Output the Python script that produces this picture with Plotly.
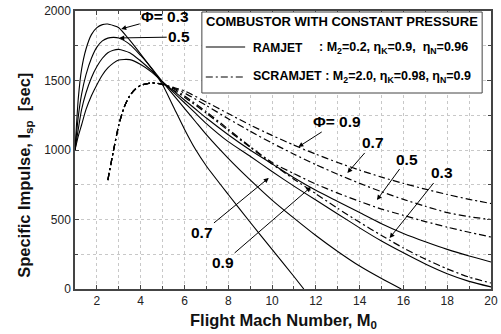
import plotly.graph_objects as go

# ---------------- data ----------------
ram_M = [1.0, 1.15, 1.3, 1.5, 1.75, 2.0, 2.25, 2.5, 2.75, 3.0, 3.5, 4.0, 4.5, 5.0, 5.5, 6.0, 6.5, 7.0,
         8.0, 9.0, 10.0, 11.0, 12.0, 13.0, 14.0, 15.0, 16.0, 17.0, 18.0, 19.0, 20.0]
ram_03 = [1000, 1370, 1580, 1725, 1830, 1880, 1902, 1906, 1895, 1880, 1790, 1690, 1585, 1470, 1310, 1150, 1005, 885,
          680, 480, 285, 90, None, None, None, None, None, None, None, None, None]
ram_05 = [1000, 1240, 1400, 1540, 1660, 1740, 1785, 1805, 1810, 1806, 1760, 1680, 1590, 1490, 1395, 1300, 1205, 1110,
          940, 785, 640, 510, 385, 270, 165, 75, None, None, None, None, None]
ram_07 = [1000, 1150, 1290, 1410, 1520, 1600, 1660, 1700, 1718, 1724, 1700, 1640, 1570, 1490, 1415, 1340, 1265, 1190,
          1060, 955, 845, 740, 640, 540, 440, 345, 260, 180, 110, 55, 15]
ram_09 = [1000, 1100, 1180, 1290, 1390, 1470, 1540, 1590, 1625, 1648, 1650, 1615, 1560, 1490, 1425, 1360, 1295, 1230,
          1110, 1000, 900, 800, 710, 630, 550, 470, 400, 340, 285, 237, 194]
ram_zero_M = [11.45, 15.9]   # Mach numbers where the Phi=0.3 / 0.5 ramjet curves reach zero

scr_M = [2.5, 2.75, 3.0, 3.25, 3.5, 3.75, 4.0, 4.5, 5.0, 5.5, 6.0, 7.0, 8.0, 9.0, 10.0, 11.0, 12.0, 13.0,
         14.0, 15.0, 16.0, 17.0, 18.0, 19.0, 20.0]
scr_rise = [784, 990, 1180, 1310, 1390, 1437, 1465, 1483, 1472]
scr_09 = scr_rise + [1450, 1425, 1345, 1262, 1180, 1105, 1035, 970, 910, 855, 805, 760, 718, 680, 645, 615]
scr_07 = scr_rise + [1445, 1410, 1320, 1225, 1135, 1050, 970, 895, 825, 760, 700, 645, 595, 550, 520, 500]
scr_05 = scr_rise + [1440, 1390, 1275, 1150, 1025, 910, 830, 755, 690, 630, 575, 530, 485, 445, 408, 374]
scr_03 = scr_rise + [1430, 1380, 1265, 1140, 1020, 900, 790, 685, 580, 480, 385, 295, 215, 145, 85, 43]

x_ticks = [2, 4, 6, 8, 10, 12, 14, 16, 18, 20]
y_ticks = [0, 500, 1000, 1500, 2000]

FONT = "Liberation Sans, Arial, sans-serif"
DASHDOT = "7px,3px,2px,3px"


def clean(xs, ys, zero_at=None):
    px, py = [], []
    for a, b in zip(xs, ys):
        if b is not None:
            px.append(a)
            py.append(b)
    if zero_at is not None:
        px.append(zero_at)
        py.append(0)
    return px, py


fig = go.Figure()
for ys, z in [(ram_03, ram_zero_M[0]), (ram_05, ram_zero_M[1]), (ram_07, None), (ram_09, None)]:
    xx, yy = clean(ram_M, ys, z)
    fig.add_trace(go.Scatter(x=xx, y=yy, mode="lines", line=dict(color="black", width=1.1, shape="spline", smoothing=0.6),
                             showlegend=False, hoverinfo="skip"))
for ys in [scr_09, scr_07, scr_05, scr_03]:
    fig.add_trace(go.Scatter(x=scr_M, y=ys, mode="lines",
                             line=dict(color="black", width=1.2, dash=DASHDOT, shape="spline", smoothing=0.6),
                             showlegend=False, hoverinfo="skip"))

axis_common = dict(
    showline=True, linecolor="#444", linewidth=1.5, mirror="ticks",
    ticks="inside", ticklen=4, tickcolor="#444", tickwidth=1,
    showgrid=True, gridcolor="#c8c8c8", gridwidth=1, griddash="dot",
    zeroline=False, tickfont=dict(family=FONT, size=12, color="#222"),
    ticklabeloverflow="allow",
)
fig.update_xaxes(range=[1, 20], tickvals=x_ticks,
                 minor=dict(dtick=1, tick0=0, ticks="inside", ticklen=3, tickcolor="#444",
                            showgrid=True, gridcolor="#c8c8c8", griddash="dot"),
                 **axis_common)
fig.update_yaxes(range=[0, 2000], tickvals=y_ticks,
                 minor=dict(dtick=250, tick0=0, ticks="inside", ticklen=3, tickcolor="#444",
                            showgrid=True, gridcolor="#c8c8c8", griddash="dot"),
                 **axis_common)

L, R, T, B = 75, 3, 11, 45
W, H = 501, 334
PW, PH = W - L - R, H - T - B


def px2paper(px, py):
    return (px - L) / PW, (T + PH - py) / PH


annots = []
# axis titles
ax_x, ax_y = px2paper(287, 321)
annots.append(dict(text="<b>Flight Mach Number, M<sub>0</sub></b>", x=ax_x, y=ax_y, xref="paper", yref="paper",
                   showarrow=False, font=dict(family=FONT, size=16.5, color="#111"), xanchor="center", yanchor="middle"))
ay_x, ay_y = px2paper(24, 175)
annots.append(dict(text="<b>Specific Impulse, I<sub>sp</sub>  [sec]</b>", x=ay_x, y=ay_y, xref="paper", yref="paper",
                   showarrow=False, textangle=-90, font=dict(family=FONT, size=16.5, color="#111"),
                   xanchor="center", yanchor="middle"))

# curve labels with arrows: (text, tip M, tip Isp, dx px, dy px)
labels = [
    ("Φ= 0.3", 3.11, 1871, 44, -12),
    ("0.5", 3.02, 1806, 60, -1),
    ("Φ= 0.9", 11.2, 1022, 39, -25),
    ("0.7", 13.44, 835, 26, -30),
    ("0.5", 14.79, 640, 30, -41),
    ("0.3", 15.37, 367, 52, -65),
    ("0.7", 9.85, 799, -67, 55),
    ("0.9", 11.78, 734, -88, 76),
]
for t, xm, yi, dx, dy in labels:
    annots.append(dict(text="<b>%s</b>" % t, x=xm, y=yi, xref="x", yref="y", ax=dx, ay=dy,
                       showarrow=True, arrowhead=2, arrowsize=1, arrowwidth=1, arrowcolor="black",
                       font=dict(family=FONT, size=15.5, color="black"), bgcolor="rgba(0,0,0,0)"))

# legend box
bx0, by0 = px2paper(204, 93)
bx1, by1 = px2paper(489, 12)
shapes = [dict(type="rect", xref="paper", yref="paper", x0=bx0, y0=by0, x1=bx1, y1=by1,
               line=dict(color="#444", width=1), fillcolor="white", layer="above")]
sx0, sy0 = px2paper(208, 47)
sx1, _ = px2paper(248, 47)
shapes.append(dict(type="line", xref="paper", yref="paper", x0=sx0, x1=sx1, y0=sy0, y1=sy0,
                   line=dict(color="black", width=1.1), layer="above"))
_, sy1 = px2paper(208, 77)
shapes.append(dict(type="line", xref="paper", yref="paper", x0=sx0, x1=sx1, y0=sy1, y1=sy1,
                   line=dict(color="black", width=1.2, dash=DASHDOT), layer="above"))

tx, ty = px2paper(346, 22)
annots.append(dict(text="<b>COMBUSTOR WITH CONSTANT PRESSURE</b>", x=tx, y=ty, xref="paper", yref="paper",
                   showarrow=False, font=dict(family=FONT, size=13, color="black"), xanchor="center", yanchor="middle"))
r1x, r1y = px2paper(254, 48)
annots.append(dict(text="<b>RAMJET</b>", x=r1x, y=r1y, xref="paper", yref="paper", showarrow=False,
                   font=dict(family=FONT, size=12, color="black"), xanchor="left", yanchor="middle"))
r2x, _ = px2paper(321, 48)
annots.append(dict(text="<b>: M<sub>2</sub>=0.2, η<sub>K</sub>=0.9,  η<sub>N</sub>=0.96</b>", x=r2x, y=r1y,
                   xref="paper", yref="paper", showarrow=False,
                   font=dict(family=FONT, size=12.5, color="black"), xanchor="left", yanchor="middle"))
s1x, s1y = px2paper(254, 77)
annots.append(dict(text="<b>SCRAMJET : M<sub>2</sub>=2.0, η<sub>K</sub>=0.98, η<sub>N</sub>=0.9</b>", x=s1x, y=s1y,
                   xref="paper", yref="paper", showarrow=False,
                   font=dict(family=FONT, size=12.5, color="black"), xanchor="left", yanchor="middle"))

fig.update_layout(
    width=W, height=H, margin=dict(l=L, r=R, t=T, b=B),
    paper_bgcolor="white", plot_bgcolor="white",
    annotations=annots, shapes=shapes, showlegend=False,
    font=dict(family=FONT),
)
fig.write_html("out.html")
